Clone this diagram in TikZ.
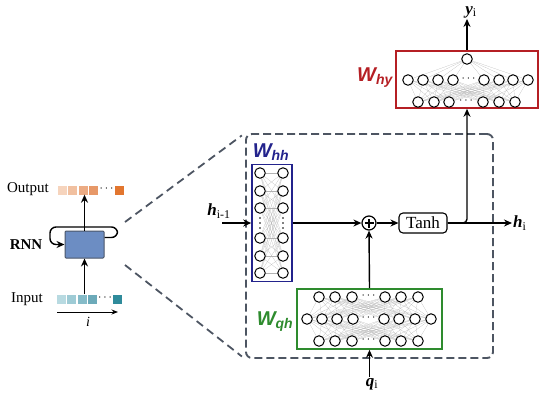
\documentclass[tikz,border=0pt]{standalone}
\usepackage{fontspec}
\setmainfont{Liberation Serif}
\newfontfamily\weightfont{Liberation Sans}
\usetikzlibrary{arrows.meta,backgrounds}

\definecolor{cell color}{HTML}{4D5562}
\definecolor{whh color}{HTML}{23238C}
\definecolor{wqh color}{HTML}{2E8B2E}
\definecolor{why color}{HTML}{B51F24}
\definecolor{rnn fill color}{HTML}{6C8DC3}
\definecolor{rnn edge color}{HTML}{4A5568}
\definecolor{outcolor1}{HTML}{F6D4BD}
\definecolor{outcolor2}{HTML}{F1C0A0}
\definecolor{outcolor3}{HTML}{ECAB83}
\definecolor{outcolor4}{HTML}{E79868}
\definecolor{outcolor5}{HTML}{E2762F}
\definecolor{incolor1}{HTML}{B8DAE1}
\definecolor{incolor2}{HTML}{9ECBD5}
\definecolor{incolor3}{HTML}{85BBC8}
\definecolor{incolor4}{HTML}{6CAAB9}
\definecolor{incolor5}{HTML}{2F8B9B}
\newcommand{\vecvar}[2]{\textbf{\textit{#1}}\textsubscript{#2}}
\tikzset{
    x={1pt},
    y={-1pt},
    neuron/.style={
        circle, draw=black, fill=white,
        line width={1pt},
        inner sep=0pt, outer sep=0pt,
        minimum size={10.5},
    },
    weight box/.style={
        draw={#1},
        line width={1.6pt},
        inner sep=0pt,
    },
    weight label/.style={
        text={#1},
        font={\weightfont\bfseries\itshape\fontsize{20}{20}\selectfont},
        inner sep=1pt,
    },
    mesh/.style={
        draw=black!30,
        line width={0.15pt},
    },
    dots/.style={
        font={\fontsize{13}{13}\selectfont},
        inner sep=0pt,
    },
    vdot/.style={
        circle, fill=black,
        inner sep=0pt,
        minimum size={1.6},
    },
    flow/.style={
        draw=black,
        line width={1.4pt},
        -{Stealth[length=8pt,width=7pt]},
    },
    thin flow/.style={
        draw=black,
        line width={0.9pt},
        -{Stealth[length=6.5pt,width=5pt]},
    },
    zoom line/.style={
        draw=cell color,
        line width={1.8pt},
        dash pattern=on 8pt off 5pt,
        shorten >=4pt,
    },
    cell box/.style={
        draw=cell color,
        line width={1.9pt},
        dash pattern=on 8pt off 4pt,
        rounded corners={6pt},
        minimum width={247},
        minimum height={224},
    },
    sequence cell/.style={
        fill={#1},
        inner sep=0pt,
        minimum width={9},
        minimum height={9},
    },
    plain label/.style={
        font={\fontsize{15}{15}\selectfont},
    },
    var label/.style={
        font={\fontsize{17}{17}\selectfont},
        inner sep=1pt,
    },
    rnn box/.style={
        draw=rnn edge color, fill=rnn fill color,
        line width={1pt},
        rounded corners={1pt},
        minimum width={39},
        minimum height={27},
    },
    sum node/.style={
        circle, draw=black, fill=white,
        line width={1.2pt},
        minimum size={14},
        inner sep=0pt,
        path picture={
            \draw[line width={1.6pt}]
                ([xshift=-4.5pt]path picture bounding box.center) -- ([xshift=4.5pt]path picture bounding box.center)
                ([yshift=-4.5pt]path picture bounding box.center) -- ([yshift=4.5pt]path picture bounding box.center);
        },
    },
    tanh box/.style={
        draw=black, fill=white,
        line width={1.1pt},
        rounded corners={4pt},
        minimum width={48},
        minimum height={20},
        inner sep=0pt,
        font={\fontsize{17}{17}\selectfont},
    },
}

\begin{document}
\begin{tikzpicture}
\useasboundingbox (0,0) rectangle (556,402);
% rnn sketch
\node[plain label] (output text) at (28,189) {Output};
\node[plain label, font={\bfseries\fontsize{15}{15}\selectfont}] (rnn text) at (26,245) {RNN};
\node[plain label] (input text) at (27,299) {Input};
\node[sequence cell={outcolor1}] (o1) at (62.5,190) {};
\node[sequence cell={outcolor2}] (o2) at (72.5,190) {};
\node[sequence cell={outcolor3}] (o3) at (83,190) {};
\node[sequence cell={outcolor4}] (o4) at (93.5,190) {};
\node[dots, font={\fontsize{12}{12}\selectfont}] (odots) at (106.5,189) {$\cdots$};
\node[sequence cell={outcolor5}] (o5) at (119.5,190) {};
\node[sequence cell={incolor1}] (i1) at (61,299) {};
\node[sequence cell={incolor2}] (i2) at (71.5,299) {};
\node[sequence cell={incolor3}] (i3) at (82,299) {};
\node[sequence cell={incolor4}] (i4) at (92.5,299) {};
\node[dots, font={\fontsize{12}{12}\selectfont}] (idots) at (105,298) {$\cdots$};
\node[sequence cell={incolor5}] (i5) at (117.5,299) {};
\node[rnn box] (rnn) at (84.5,244.5) {};
\draw[flow] (rnn.north) -- (rnn.north |- o3.south);
\draw[flow] (rnn.south |- i3.north) -- (rnn.south);
\draw[flow, rounded corners={6pt}] ([yshift=7pt]rnn.east) -- ++(13,0) |- (50,227) |- (rnn.west);
\coordinate (axis start) at (57,312);
\coordinate (axis end) at (118,312);
\draw[thin flow] (axis start) -- (axis end);
\node[font={\itshape\fontsize{14}{14}\selectfont}] (axis text) at (88,322) {i};
% cell
\node[cell box] (cell) at (369.5,246) {};
\coordinate (zoom top) at (125,222);
\coordinate (zoom bottom) at (125,265);
\path[zoom line] (zoom top) -- (cell.north west);
\path[zoom line] (zoom bottom) -- (cell.south west);
% weight blocks
\node[weight box={whh color}, minimum width={40}, minimum height={117}] (whh) at (272,223) {};
\node[weight label={whh color}] (whh text) at (271,152) {W\textsubscript{hh}};
\foreach \y [count=\k] in {173,191,208,238,256,273} {
    \node[neuron] (hl\k) at (260,\y) {};
    \node[neuron] (hr\k) at (283,\y) {};
}
\foreach \y in {218,223,228} {
    \node[vdot] at (260,\y) {};
    \node[vdot] at (283,\y) {};
}
\node[weight box={wqh color}, minimum width={145}, minimum height={60}] (wqh) at (369.5,319) {};
\node[weight label={wqh color}] (wqh text) at (275,322) {W\textsubscript{qh}};
\foreach \x [count=\k] in {319,335,352,385,401,418} {
    \node[neuron] (qt\k) at (\x,297) {};
    \node[neuron] (qb\k) at (\x,341) {};
}
\foreach \x [count=\k] in {307,322,337,353,384,399,415,431}
    \node[neuron] (qm\k) at (\x,319) {};
\node[dots] (qtdots) at (368.5,296) {$\cdots$};
\node[dots] (qmdots) at (368.5,318) {$\cdots$};
\node[dots] (qbdots) at (368.5,340) {$\cdots$};
\node[weight box={why color}, minimum width={142}, minimum height={57}] (why) at (467,79.5) {};
\node[weight label={why color}] (why text) at (375,78) {W\textsubscript{hy}};
\node[neuron] (yt) at (467,59) {};
\foreach \x [count=\k] in {408,423,438,453,484,499,513,528}
    \node[neuron] (ym\k) at (\x,80) {};
\foreach \x [count=\k] in {418,434,449,483,499,515}
    \node[neuron] (yb\k) at (\x,102) {};
\node[dots] (ymdots) at (468.5,79) {$\cdots$};
\node[dots] (ybdots) at (466,101) {$\cdots$};
% connections inside the blocks
\begin{scope}[on background layer]
\foreach \a in {1,...,6}
    \foreach \b in {1,...,6}
        \path[mesh] (hl\a) -- (hr\b);
\foreach \a in {1,...,6}
    \foreach \b in {1,...,8}
        \path[mesh] (qt\a) -- (qm\b) (qb\a) -- (qm\b) (yb\a) -- (ym\b);
\foreach \b in {1,...,8}
    \path[mesh] (yt) -- (ym\b);
\end{scope}
% operations
\node[sum node] (sum) at (369,223) {};
\node[tanh box] (tanh) at (423,223) {Tanh};
\node[var label] (hprev) at (219,211) {\vecvar{h}{i-1}};
\coordinate (hin) at (222,223);
\node[var label, anchor=west] (hi) at (512,223) {\vecvar{h}{i}};
\node[var label] (qi) at (372,384) {\vecvar{q}{i}};
\node[var label] (yi) at (471,12) {\vecvar{y}{i}};
% signal flow
\draw[flow] (hin) -- (whh.west);
\draw[flow] (whh.east) -- (sum.west);
\draw[flow] (sum.east) -- (tanh.west);
\draw[flow] (tanh.east) -- (hi.west);
\draw[flow, rounded corners={4pt}] (tanh.east) -| (why.south);
\draw[flow] (wqh.north) -- (sum.south);
\draw[flow] (wqh.south |- qi.north) -- (wqh.south);
\draw[flow] (why.north) -- (why.north |- yi.south);
\end{tikzpicture}
\end{document}
